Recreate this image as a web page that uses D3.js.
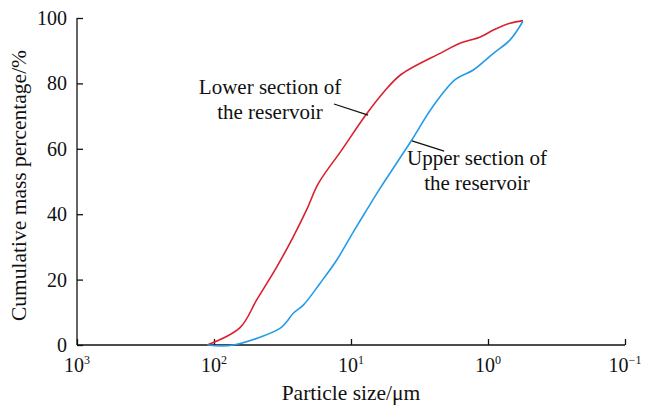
<!DOCTYPE html>
<html>
<head>
<meta charset="utf-8">
<script src="https://cdn.jsdelivr.net/npm/d3@7"></script>
<style>
  body { margin: 0; background: #fff; }
  text { font-family: "Liberation Serif", "Times New Roman", serif; fill: #111; }
</style>
</head>
<body>
<div id="chart"></div>
<script>
// particle size (um) and cumulative mass %
var lowerSize = [112, 64.6, 48.8, 34.8, 26.4, 21.1, 17.3, 11.7, 7.78, 5.70, 4.29, 2.17, 1.60, 1.14, 0.914, 0.69, 0.556];
var lowerPct  = [0, 5.3, 13.8, 23.9, 33.1, 41.3, 49.4, 59.6, 70.4, 77.6, 82.8, 89.5, 92.3, 94.2, 96.3, 98.4, 99.2];

var upperSize = [112, 72.3, 33.0, 29.5, 26.4, 22.3, 16.8, 12.7, 9.61, 7.68, 6.14, 3.61, 2.57, 1.73, 1.28, 0.914, 0.69, 0.556];
var upperPct  = [0, 0, 5.1, 7.1, 9.7, 12.2, 18.9, 26.0, 34.6, 41.3, 47.9, 62.6, 72.5, 81.2, 84.1, 89.2, 93.3, 99.0];

var xTicks = [1000, 100, 10, 1, 0.1];
var xTickExp = ["3", "2", "1", "0", "\u22121"];
var yTicks = [0, 20, 40, 60, 80, 100];

var margin = {top: 18, right: 37, bottom: 61, left: 77},
    width = 662 - margin.left - margin.right,
    height = 406 - margin.top - margin.bottom;

var x = d3.scaleLog().domain([1000, 0.1]).range([0, width]);
var y = d3.scaleLinear().domain([0, 100]).range([height, 0]);

var svg = d3.select("#chart").append("svg")
    .attr("width", width + margin.left + margin.right)
    .attr("height", height + margin.top + margin.bottom)
    .style("display", "block")
  .append("g")
    .attr("transform", "translate(" + margin.left + "," + margin.top + ")");

/* axes: ticks point inward */
var xAxis = d3.axisBottom(x).tickValues(xTicks).tickSize(-6).tickFormat("");
var yAxis = d3.axisLeft(y).tickValues(yTicks).tickSize(-6).tickFormat("");

svg.append("g")
    .attr("class", "x axis")
    .attr("transform", "translate(0," + height + ")")
    .call(xAxis);

svg.append("g")
    .attr("class", "y axis")
    .call(yAxis);

svg.selectAll(".axis path, .axis line")
    .attr("stroke", "#111")
    .attr("stroke-width", 1.3);
svg.selectAll(".axis .domain").attr("d", function() {
    return d3.select(this.parentNode).classed("x") ? "M0,0H" + width : "M0," + height + "V0";
});

// tick labels
var xl = svg.append("g").selectAll("text")
    .data(xTicks)
    .enter().append("text")
    .attr("x", function(d) { return x(d); })
    .attr("y", height + 27)
    .attr("text-anchor", "middle")
    .style("font-size", "20px");
xl.append("tspan").text("10");
xl.append("tspan")
    .attr("dy", -8)
    .style("font-size", "12px")
    .text(function(d, i) { return xTickExp[i]; });

svg.append("g").selectAll("text")
    .data(yTicks)
    .enter().append("text")
    .attr("x", -10)
    .attr("y", function(d) { return y(d) + 7; })
    .attr("text-anchor", "end")
    .style("font-size", "20px")
    .text(function(d) { return d; });

// axis titles
svg.append("text")
    .attr("x", width / 2)
    .attr("y", height + 55)
    .attr("text-anchor", "middle")
    .style("font-size", "21.5px")
    .text("Particle size/\u03bcm");

svg.append("text")
    .attr("transform", "translate(-51," + (height / 2 + 4) + ") rotate(-90)")
    .attr("text-anchor", "middle")
    .style("font-size", "21.5px")
    .text("Cumulative mass percentage/%");

// curves
var line = d3.line()
    .x(function(d) { return x(d[0]); })
    .y(function(d) { return y(d[1]); })
    .curve(d3.curveCatmullRom.alpha(0.5));

svg.append("path")
    .datum(lowerSize.map(function(s, i) { return [s, lowerPct[i]]; }))
    .attr("fill", "none")
    .attr("stroke", "#d9202c")
    .attr("stroke-width", 1.6)
    .attr("d", line);

svg.append("path")
    .datum(upperSize.map(function(s, i) { return [s, upperPct[i]]; }))
    .attr("fill", "none")
    .attr("stroke", "#239ce8")
    .attr("stroke-width", 1.6)
    .attr("d", line);

// labels with leader lines
var notes = [
    {lines: ["Lower section of", "the reservoir"], tx: 13.3, ty: 73.7, px: 7.5, py: 70.3, cx: 193, by: 76},
    {lines: ["Upper section of", "the reservoir"], tx: 2.09, ty: 59.3, px: 3.59, py: 62.4, cx: 400, by: 147}
];

notes.forEach(function(n) {
    svg.append("line")
        .attr("x1", x(n.tx)).attr("y1", y(n.ty))
        .attr("x2", x(n.px)).attr("y2", y(n.py))
        .attr("stroke", "#111")
        .attr("stroke-width", 1.3);
    n.lines.forEach(function(t, i) {
        svg.append("text")
            .attr("x", n.cx)
            .attr("y", n.by + i * 25)
            .attr("text-anchor", "middle")
            .style("font-size", "21px")
            .text(t);
    });
});
</script>
</body>
</html>
